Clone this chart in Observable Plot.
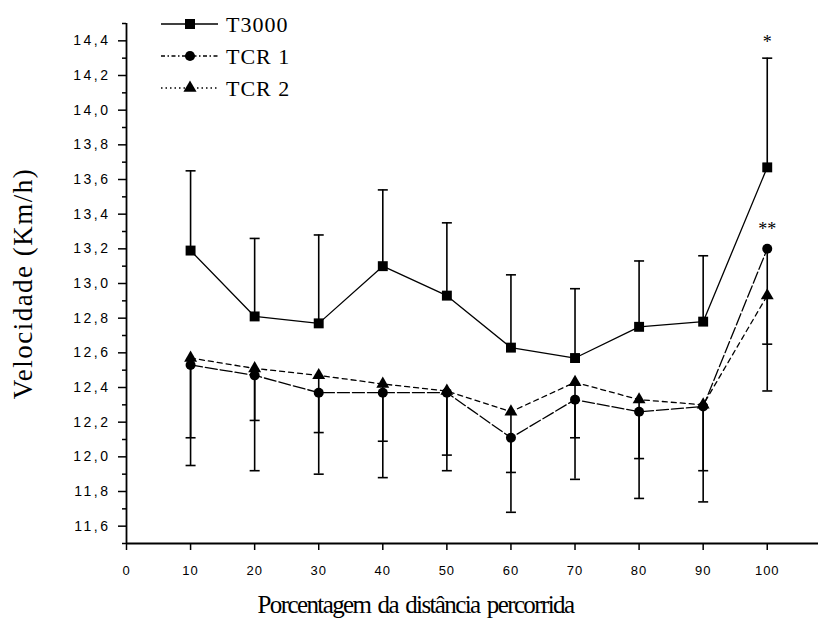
<!DOCTYPE html>
<html><head><meta charset="utf-8">
<script src="https://cdn.jsdelivr.net/npm/d3@7"></script>
<script src="https://cdn.jsdelivr.net/npm/@observablehq/plot@0.6"></script>
<style>
body{margin:0;background:#fff;}
#wrap{position:relative;width:819px;height:624px;}
#wrap > svg{position:absolute;left:0;top:0;}
</style></head><body><div id="wrap"></div>
<script>
// ---- data ----
const pct = [10, 20, 30, 40, 50, 60, 70, 80, 90, 100];
const t3000 = [13.19, 12.81, 12.77, 13.10, 12.93, 12.63, 12.57, 12.75, 12.78, 13.67];
const t3000Up = [13.65, 13.26, 13.28, 13.54, 13.35, 13.05, 12.97, 13.13, 13.16, 14.30];
const tcr1 = [12.53, 12.47, 12.37, 12.37, 12.37, 12.11, 12.33, 12.26, 12.29, 13.20];
const tcr1Low = [11.95, 11.92, 11.90, 11.88, 11.92, 11.68, 11.87, 11.76, 11.74, 12.38];
const tcr2 = [12.57, 12.51, 12.47, 12.42, 12.38, 12.26, 12.43, 12.33, 12.30, 12.93];
const tcr2Low = [12.11, 12.21, 12.14, 12.09, 12.01, 11.91, 12.11, 11.99, 11.92, 12.65];
const xTicks = [0, 10, 20, 30, 40, 50, 60, 70, 80, 90, 100];
const yTicks = [11.6, 11.8, 12.0, 12.2, 12.4, 12.6, 12.8, 13.0, 13.2, 13.4, 13.6, 13.8, 14.0, 14.2, 14.4];
const yMinor = [11.5, 11.7, 11.9, 12.1, 12.3, 12.5, 12.7, 12.9, 13.1, 13.3, 13.5, 13.7, 13.9, 14.1, 14.3, 14.5];
const seriesNames = ["T3000", "TCR 1", "TCR 2"];
const starMarks = ["*", "**"];
const xLabel = "Porcentagem da distância percorrida";
const yLabel = "Velocidade (Km/h)";

const rows = pct.map((x, i) => ({x, t3000: t3000[i], up: t3000Up[i], tcr1: tcr1[i], lo1: tcr1Low[i], tcr2: tcr2[i], lo2: tcr2Low[i]}));
const last = pct.length - 1;
const star1 = [{x: pct[last], y: t3000Up[last], s: starMarks[0]}];
const star2 = [{x: pct[last], y: tcr1[last], s: starMarks[1]}];

const cap = {draw(ctx) { ctx.moveTo(-5, 0); ctx.lineTo(5, 0); }};
const fmt = d => d.toFixed(1).replace(".", ",");
const dash1 = "12,3";
const dash2 = "5,4";
const serif = "Liberation Serif, Times New Roman, serif";

const chart = Plot.plot({
  width: 819, height: 624,
  marginLeft: 126, marginRight: 1, marginTop: 23, marginBottom: 81,
  style: {fontFamily: "Liberation Sans, Arial, sans-serif", background: "white", color: "black", overflow: "visible"},
  x: {domain: [0, 108]},
  y: {domain: [11.5, 14.5]},
  marks: [
    Plot.axisY({ticks: yMinor, tickSize: 4, tickFormat: () => "", label: null, strokeWidth: 1.5}),
    Plot.axisY({ticks: yTicks, tickSize: 8, tickPadding: 8, tickFormat: fmt, label: null, fontSize: 14, strokeWidth: 1.5}),
    Plot.axisX({ticks: xTicks, tickSize: 7, tickPadding: 15, label: null, fontSize: 13, strokeWidth: 1.5}),
    Plot.ruleX([0], {stroke: "black", strokeWidth: 1.8}),
    Plot.ruleY([11.5], {stroke: "black", strokeWidth: 1.8}),
    // error bars
    Plot.ruleX(rows, {x: "x", y1: "t3000", y2: "up", stroke: "black", strokeWidth: 1.6}),
    Plot.dot(rows, {x: "x", y: "up", symbol: cap, stroke: "black", strokeWidth: 1.6, fill: "none"}),
    Plot.ruleX(rows, {x: "x", y1: "tcr1", y2: "lo1", stroke: "black", strokeWidth: 1.6}),
    Plot.dot(rows, {x: "x", y: "lo1", symbol: cap, stroke: "black", strokeWidth: 1.6, fill: "none"}),
    Plot.ruleX(rows, {x: "x", y1: "tcr2", y2: "lo2", stroke: "black", strokeWidth: 1.6}),
    Plot.dot(rows, {x: "x", y: "lo2", symbol: cap, stroke: "black", strokeWidth: 1.6, fill: "none"}),
    // lines
    Plot.line(rows, {x: "x", y: "t3000", stroke: "black", strokeWidth: 1.3}),
    Plot.line(rows, {x: "x", y: "tcr1", stroke: "black", strokeWidth: 1.3, strokeDasharray: dash1}),
    Plot.line(rows, {x: "x", y: "tcr2", stroke: "black", strokeWidth: 1.3, strokeDasharray: dash2}),
    // markers
    Plot.dot(rows, {x: "x", y: "t3000", symbol: "square", r: 5.6, fill: "black"}),
    Plot.dot(rows, {x: "x", y: "tcr1", symbol: "circle", r: 5, fill: "black"}),
    Plot.dot(rows, {x: "x", y: "tcr2", symbol: "triangle", r: 4.8, fill: "black"}),
    // significance marks
    Plot.text(star1, {x: "x", y: "y", text: "s", dy: -16, fontSize: 18, fontFamily: serif}),
    Plot.text(star2, {x: "x", y: "y", text: "s", dy: -20, fontSize: 18, fontFamily: serif}),
    // axis titles
    Plot.text([yLabel], {frameAnchor: "left", textAnchor: "middle", dx: -103, rotate: -90, fontSize: 27, fontFamily: serif}),
    Plot.text([xLabel], {frameAnchor: "bottom", dx: -57, dy: 69, fontSize: 25, fontFamily: serif})
  ]
});
const root = d3.select(chart);
root.selectAll("g[aria-label='y-axis tick label'] text").attr("letter-spacing", "2.5px");
root.selectAll("g[aria-label='x-axis tick label'] text").attr("letter-spacing", "1px");
root.selectAll("text").filter(function() { return this.textContent === yLabel; }).attr("letter-spacing", "1.5px");
root.selectAll("text").filter(function() { return this.textContent === xLabel; })
  .attr("letter-spacing", "-1.6px").attr("word-spacing", "2.5px");
document.getElementById("wrap").appendChild(chart);

// legend overlay
const leg = d3.select("#wrap").append("svg").attr("width", 819).attr("height", 624).style("pointer-events", "none");
const legY = [24, 56, 88];
const legDash = [null, "4,2.5,1.5,2.5", "1.5,3"];
const legSym = [d3.symbolSquare, d3.symbolCircle, d3.symbolTriangle];
const legSize = [100, 80, 75];
seriesNames.forEach((name, i) => {
  const g = leg.append("g").attr("transform", `translate(0,${legY[i]})`);
  g.append("line").attr("x1", 161).attr("x2", 218).attr("stroke", "black").attr("stroke-width", 1.3)
    .attr("stroke-dasharray", legDash[i]);
  g.append("path").attr("d", d3.symbol(legSym[i], legSize[i])()).attr("transform", "translate(190,0)").attr("fill", "black");
  g.append("text").attr("x", 226).attr("dy", "0.35em").attr("font-family", serif).attr("font-size", 22)
    .attr("letter-spacing", "1px").text(name);
});
</script>
</body></html>
